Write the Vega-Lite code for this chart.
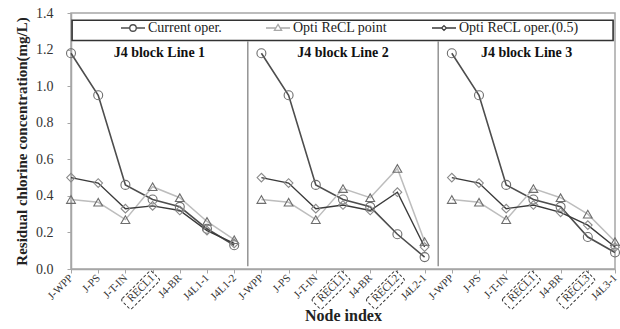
{
  "$schema": "https://vega.github.io/schema/vega-lite/v6.json",
  "width": 544,
  "height": 256,
  "autosize": {"type": "none"},
  "padding": {"left": 71, "top": 13, "right": 5, "bottom": 60},
  "background": "white",
  "config": {
    "font": "Liberation Serif",
    "view": {"stroke": "#a6a6a6", "strokeWidth": 1.5},
    "axis": {
      "grid": false,
      "domainColor": "#a6a6a6",
      "domainWidth": 1.5,
      "tickColor": "#a6a6a6",
      "tickSize": 4,
      "labelFont": "Liberation Serif",
      "titleFont": "Liberation Serif",
      "labelColor": "#333333",
      "titleColor": "#222222",
      "titleFontWeight": "bold"
    },
    "axisX": {
      "labelAngle": -45,
      "labelAlign": "right",
      "labelBaseline": "middle",
      "labelFontSize": 11,
      "labelPadding": 3,
      "labelOverlap": false,
      "labelFlush": false,
      "labelBound": false,
      "titleFontSize": 16,
      "titlePadding": 4
    },
    "axisY": {
      "labelFontSize": 14,
      "labelPadding": 14,
      "titleFontSize": 15,
      "titlePadding": 6
    }
  },
  "datasets": {
    "conc": [
      {"idx": 0, "line": 1, "series": "Current oper.", "conc": 1.18},
      {"idx": 1, "line": 1, "series": "Current oper.", "conc": 0.95},
      {"idx": 2, "line": 1, "series": "Current oper.", "conc": 0.46},
      {"idx": 3, "line": 1, "series": "Current oper.", "conc": 0.38},
      {"idx": 4, "line": 1, "series": "Current oper.", "conc": 0.34},
      {"idx": 5, "line": 1, "series": "Current oper.", "conc": 0.22},
      {"idx": 6, "line": 1, "series": "Current oper.", "conc": 0.13},
      {"idx": 7, "line": 2, "series": "Current oper.", "conc": 1.18},
      {"idx": 8, "line": 2, "series": "Current oper.", "conc": 0.95},
      {"idx": 9, "line": 2, "series": "Current oper.", "conc": 0.46},
      {"idx": 10, "line": 2, "series": "Current oper.", "conc": 0.38},
      {"idx": 11, "line": 2, "series": "Current oper.", "conc": 0.34},
      {"idx": 12, "line": 2, "series": "Current oper.", "conc": 0.19},
      {"idx": 13, "line": 2, "series": "Current oper.", "conc": 0.065},
      {"idx": 14, "line": 3, "series": "Current oper.", "conc": 1.18},
      {"idx": 15, "line": 3, "series": "Current oper.", "conc": 0.95},
      {"idx": 16, "line": 3, "series": "Current oper.", "conc": 0.46},
      {"idx": 17, "line": 3, "series": "Current oper.", "conc": 0.38},
      {"idx": 18, "line": 3, "series": "Current oper.", "conc": 0.34},
      {"idx": 19, "line": 3, "series": "Current oper.", "conc": 0.175},
      {"idx": 20, "line": 3, "series": "Current oper.", "conc": 0.09},
      {"idx": 0, "line": 1, "series": "Opti ReCL point", "conc": 0.38},
      {"idx": 1, "line": 1, "series": "Opti ReCL point", "conc": 0.365},
      {"idx": 2, "line": 1, "series": "Opti ReCL point", "conc": 0.27},
      {"idx": 3, "line": 1, "series": "Opti ReCL point", "conc": 0.45},
      {"idx": 4, "line": 1, "series": "Opti ReCL point", "conc": 0.39},
      {"idx": 5, "line": 1, "series": "Opti ReCL point", "conc": 0.26},
      {"idx": 6, "line": 1, "series": "Opti ReCL point", "conc": 0.16},
      {"idx": 7, "line": 2, "series": "Opti ReCL point", "conc": 0.38},
      {"idx": 8, "line": 2, "series": "Opti ReCL point", "conc": 0.365},
      {"idx": 9, "line": 2, "series": "Opti ReCL point", "conc": 0.27},
      {"idx": 10, "line": 2, "series": "Opti ReCL point", "conc": 0.44},
      {"idx": 11, "line": 2, "series": "Opti ReCL point", "conc": 0.39},
      {"idx": 12, "line": 2, "series": "Opti ReCL point", "conc": 0.55},
      {"idx": 13, "line": 2, "series": "Opti ReCL point", "conc": 0.15},
      {"idx": 14, "line": 3, "series": "Opti ReCL point", "conc": 0.38},
      {"idx": 15, "line": 3, "series": "Opti ReCL point", "conc": 0.365},
      {"idx": 16, "line": 3, "series": "Opti ReCL point", "conc": 0.27},
      {"idx": 17, "line": 3, "series": "Opti ReCL point", "conc": 0.44},
      {"idx": 18, "line": 3, "series": "Opti ReCL point", "conc": 0.39},
      {"idx": 19, "line": 3, "series": "Opti ReCL point", "conc": 0.30},
      {"idx": 20, "line": 3, "series": "Opti ReCL point", "conc": 0.15},
      {"idx": 0, "line": 1, "series": "Opti ReCL oper.(0.5)", "conc": 0.50},
      {"idx": 1, "line": 1, "series": "Opti ReCL oper.(0.5)", "conc": 0.47},
      {"idx": 2, "line": 1, "series": "Opti ReCL oper.(0.5)", "conc": 0.33},
      {"idx": 3, "line": 1, "series": "Opti ReCL oper.(0.5)", "conc": 0.345},
      {"idx": 4, "line": 1, "series": "Opti ReCL oper.(0.5)", "conc": 0.32},
      {"idx": 5, "line": 1, "series": "Opti ReCL oper.(0.5)", "conc": 0.21},
      {"idx": 6, "line": 1, "series": "Opti ReCL oper.(0.5)", "conc": 0.14},
      {"idx": 7, "line": 2, "series": "Opti ReCL oper.(0.5)", "conc": 0.50},
      {"idx": 8, "line": 2, "series": "Opti ReCL oper.(0.5)", "conc": 0.47},
      {"idx": 9, "line": 2, "series": "Opti ReCL oper.(0.5)", "conc": 0.33},
      {"idx": 10, "line": 2, "series": "Opti ReCL oper.(0.5)", "conc": 0.35},
      {"idx": 11, "line": 2, "series": "Opti ReCL oper.(0.5)", "conc": 0.32},
      {"idx": 12, "line": 2, "series": "Opti ReCL oper.(0.5)", "conc": 0.42},
      {"idx": 13, "line": 2, "series": "Opti ReCL oper.(0.5)", "conc": 0.12},
      {"idx": 14, "line": 3, "series": "Opti ReCL oper.(0.5)", "conc": 0.50},
      {"idx": 15, "line": 3, "series": "Opti ReCL oper.(0.5)", "conc": 0.47},
      {"idx": 16, "line": 3, "series": "Opti ReCL oper.(0.5)", "conc": 0.33},
      {"idx": 17, "line": 3, "series": "Opti ReCL oper.(0.5)", "conc": 0.35},
      {"idx": 18, "line": 3, "series": "Opti ReCL oper.(0.5)", "conc": 0.31},
      {"idx": 19, "line": 3, "series": "Opti ReCL oper.(0.5)", "conc": 0.24},
      {"idx": 20, "line": 3, "series": "Opti ReCL oper.(0.5)", "conc": 0.12}
    ],
    "recl_nodes": [
      {"idx": 3, "node": "RECL1"},
      {"idx": 10, "node": "RECL1"},
      {"idx": 12, "node": "RECL2"},
      {"idx": 17, "node": "RECL1"},
      {"idx": 19, "node": "RECL3"}
    ],
    "single": [{"one": 1}]
  },
  "layer": [
    {
      "data": {"name": "single"},
      "mark": {"type": "rect", "fill": "white", "stroke": "#333333", "strokeWidth": 1.6},
      "encoding": {
        "x": {"datum": 0.04, "type": "quantitative", "axis": {"values": [0, 1, 2, 3, 4, 5, 6, 7, 8, 9, 10, 11, 12, 13, 14, 15, 16, 17, 18, 19, 20], "labelExpr": "['J-WPP','J-PS','J-T-IN','RECL1','J4-BR','J4L1-1','J4L1-2','J-WPP','J-PS','J-T-IN','RECL1','J4-BR','RECL2','J4L2-1','J-WPP','J-PS','J-T-IN','RECL1','J4-BR','RECL3','J4L3-1'][datum.value]", "title": "Node index"}},
        "x2": {"datum": 19.93},
        "y": {"datum": 1.36, "type": "quantitative", "axis": {"values": [0, 0.2, 0.4, 0.6, 0.8, 1.0, 1.2, 1.4], "format": ".1f", "title": "Residual chlorine concentration(mg/L)"}},
        "y2": {"datum": 1.25}
      }
    },
    {
      "data": {"name": "single"},
      "mark": {"type": "rule", "stroke": "#8c8c8c", "strokeWidth": 1.4},
      "encoding": {
        "x": {"datum": 6.5, "type": "quantitative", "axis": {"values": [0, 1, 2, 3, 4, 5, 6, 7, 8, 9, 10, 11, 12, 13, 14, 15, 16, 17, 18, 19, 20], "labelExpr": "['J-WPP','J-PS','J-T-IN','RECL1','J4-BR','J4L1-1','J4L1-2','J-WPP','J-PS','J-T-IN','RECL1','J4-BR','RECL2','J4L2-1','J-WPP','J-PS','J-T-IN','RECL1','J4-BR','RECL3','J4L3-1'][datum.value]", "title": "Node index"}},
        "y": {"datum": 0.015, "type": "quantitative", "axis": {"values": [0, 0.2, 0.4, 0.6, 0.8, 1.0, 1.2, 1.4], "format": ".1f", "title": "Residual chlorine concentration(mg/L)"}},
        "y2": {"datum": 1.245}
      }
    },
    {
      "data": {"name": "single"},
      "mark": {"type": "rule", "stroke": "#8c8c8c", "strokeWidth": 1.4},
      "encoding": {
        "x": {"datum": 13.5, "type": "quantitative", "axis": {"values": [0, 1, 2, 3, 4, 5, 6, 7, 8, 9, 10, 11, 12, 13, 14, 15, 16, 17, 18, 19, 20], "labelExpr": "['J-WPP','J-PS','J-T-IN','RECL1','J4-BR','J4L1-1','J4L1-2','J-WPP','J-PS','J-T-IN','RECL1','J4-BR','RECL2','J4L2-1','J-WPP','J-PS','J-T-IN','RECL1','J4-BR','RECL3','J4L3-1'][datum.value]", "title": "Node index"}},
        "y": {"datum": 0.015, "type": "quantitative", "axis": {"values": [0, 0.2, 0.4, 0.6, 0.8, 1.0, 1.2, 1.4], "format": ".1f", "title": "Residual chlorine concentration(mg/L)"}},
        "y2": {"datum": 1.245}
      }
    },
    {
      "data": {"name": "single"},
      "mark": {"type": "text", "fontSize": 14, "fontWeight": "bold", "align": "center", "baseline": "middle", "color": "#111111"},
      "encoding": {
        "x": {"datum": 3.25, "type": "quantitative", "axis": {"values": [0, 1, 2, 3, 4, 5, 6, 7, 8, 9, 10, 11, 12, 13, 14, 15, 16, 17, 18, 19, 20], "labelExpr": "['J-WPP','J-PS','J-T-IN','RECL1','J4-BR','J4L1-1','J4L1-2','J-WPP','J-PS','J-T-IN','RECL1','J4-BR','RECL2','J4L2-1','J-WPP','J-PS','J-T-IN','RECL1','J4-BR','RECL3','J4L3-1'][datum.value]", "title": "Node index"}},
        "y": {"datum": 1.183, "type": "quantitative", "axis": {"values": [0, 0.2, 0.4, 0.6, 0.8, 1.0, 1.2, 1.4], "format": ".1f", "title": "Residual chlorine concentration(mg/L)"}},
        "text": {"value": "J4 block Line 1"}
      }
    },
    {
      "data": {"name": "single"},
      "mark": {"type": "text", "fontSize": 14, "fontWeight": "bold", "align": "center", "baseline": "middle", "color": "#111111"},
      "encoding": {
        "x": {"datum": 10, "type": "quantitative", "axis": {"values": [0, 1, 2, 3, 4, 5, 6, 7, 8, 9, 10, 11, 12, 13, 14, 15, 16, 17, 18, 19, 20], "labelExpr": "['J-WPP','J-PS','J-T-IN','RECL1','J4-BR','J4L1-1','J4L1-2','J-WPP','J-PS','J-T-IN','RECL1','J4-BR','RECL2','J4L2-1','J-WPP','J-PS','J-T-IN','RECL1','J4-BR','RECL3','J4L3-1'][datum.value]", "title": "Node index"}},
        "y": {"datum": 1.183, "type": "quantitative", "axis": {"values": [0, 0.2, 0.4, 0.6, 0.8, 1.0, 1.2, 1.4], "format": ".1f", "title": "Residual chlorine concentration(mg/L)"}},
        "text": {"value": "J4 block Line 2"}
      }
    },
    {
      "data": {"name": "single"},
      "mark": {"type": "text", "fontSize": 14, "fontWeight": "bold", "align": "center", "baseline": "middle", "color": "#111111"},
      "encoding": {
        "x": {"datum": 16.75, "type": "quantitative", "axis": {"values": [0, 1, 2, 3, 4, 5, 6, 7, 8, 9, 10, 11, 12, 13, 14, 15, 16, 17, 18, 19, 20], "labelExpr": "['J-WPP','J-PS','J-T-IN','RECL1','J4-BR','J4L1-1','J4L1-2','J-WPP','J-PS','J-T-IN','RECL1','J4-BR','RECL2','J4L2-1','J-WPP','J-PS','J-T-IN','RECL1','J4-BR','RECL3','J4L3-1'][datum.value]", "title": "Node index"}},
        "y": {"datum": 1.183, "type": "quantitative", "axis": {"values": [0, 0.2, 0.4, 0.6, 0.8, 1.0, 1.2, 1.4], "format": ".1f", "title": "Residual chlorine concentration(mg/L)"}},
        "text": {"value": "J4 block Line 3"}
      }
    },
    {
      "data": {"name": "conc"},
      "mark": {"type": "line"},
      "encoding": {
        "x": {
          "field": "idx",
          "type": "quantitative",
          "scale": {"domain": [0, 20], "nice": false, "zero": false},
          "axis": {"values": [0, 1, 2, 3, 4, 5, 6, 7, 8, 9, 10, 11, 12, 13, 14, 15, 16, 17, 18, 19, 20], "labelExpr": "['J-WPP','J-PS','J-T-IN','RECL1','J4-BR','J4L1-1','J4L1-2','J-WPP','J-PS','J-T-IN','RECL1','J4-BR','RECL2','J4L2-1','J-WPP','J-PS','J-T-IN','RECL1','J4-BR','RECL3','J4L3-1'][datum.value]", "title": "Node index"}
        },
        "y": {
          "field": "conc",
          "type": "quantitative",
          "scale": {"domain": [0, 1.4], "nice": false, "zero": true},
          "axis": {"values": [0, 0.2, 0.4, 0.6, 0.8, 1.0, 1.2, 1.4], "format": ".1f", "title": "Residual chlorine concentration(mg/L)"}
        },
        "detail": {"field": "line", "type": "nominal"},
        "stroke": {
          "field": "series", "type": "nominal",
          "scale": {"domain": ["Current oper.", "Opti ReCL point", "Opti ReCL oper.(0.5)"], "range": ["#4d4d4d", "#bdbdbd", "#3a3a3a"]},
          "legend": null
        },
        "strokeWidth": {
          "field": "series", "type": "nominal",
          "scale": {"domain": ["Current oper.", "Opti ReCL point", "Opti ReCL oper.(0.5)"], "range": [1.6, 1.4, 1.9]},
          "legend": null
        }
      }
    },
    {
      "data": {"name": "conc"},
      "mark": {"type": "point", "filled": false, "strokeWidth": 1.1, "opacity": 1},
      "encoding": {
        "x": {"field": "idx", "type": "quantitative", "axis": {"values": [0, 1, 2, 3, 4, 5, 6, 7, 8, 9, 10, 11, 12, 13, 14, 15, 16, 17, 18, 19, 20], "labelExpr": "['J-WPP','J-PS','J-T-IN','RECL1','J4-BR','J4L1-1','J4L1-2','J-WPP','J-PS','J-T-IN','RECL1','J4-BR','RECL2','J4L2-1','J-WPP','J-PS','J-T-IN','RECL1','J4-BR','RECL3','J4L3-1'][datum.value]", "title": "Node index"}},
        "y": {"field": "conc", "type": "quantitative", "axis": {"values": [0, 0.2, 0.4, 0.6, 0.8, 1.0, 1.2, 1.4], "format": ".1f", "title": "Residual chlorine concentration(mg/L)"}},
        "shape": {
          "field": "series", "type": "nominal",
          "scale": {"domain": ["Current oper.", "Opti ReCL point", "Opti ReCL oper.(0.5)"], "range": ["circle", "triangle-up", "diamond"]},
          "legend": null
        },
        "stroke": {
          "field": "series", "type": "nominal",
          "scale": {"domain": ["Current oper.", "Opti ReCL point", "Opti ReCL oper.(0.5)"], "range": ["#6e6e6e", "#6e6e6e", "#8a8a8a"]},
          "legend": null
        },
        "size": {
          "field": "series", "type": "nominal",
          "scale": {"domain": ["Current oper.", "Opti ReCL point", "Opti ReCL oper.(0.5)"], "range": [80, 75, 40]},
          "legend": null
        }
      }
    },
    {
      "data": {"name": "conc"},
      "mark": {"type": "point", "filled": false, "opacity": 0},
      "encoding": {
        "x": {"field": "idx", "type": "quantitative", "axis": {"values": [0, 1, 2, 3, 4, 5, 6, 7, 8, 9, 10, 11, 12, 13, 14, 15, 16, 17, 18, 19, 20], "labelExpr": "['J-WPP','J-PS','J-T-IN','RECL1','J4-BR','J4L1-1','J4L1-2','J-WPP','J-PS','J-T-IN','RECL1','J4-BR','RECL2','J4L2-1','J-WPP','J-PS','J-T-IN','RECL1','J4-BR','RECL3','J4L3-1'][datum.value]", "title": "Node index"}},
        "y": {"field": "conc", "type": "quantitative", "axis": {"values": [0, 0.2, 0.4, 0.6, 0.8, 1.0, 1.2, 1.4], "format": ".1f", "title": "Residual chlorine concentration(mg/L)"}},
        "shape": {
          "field": "series", "type": "nominal",
          "scale": {
            "domain": ["Current oper.", "Opti ReCL point", "Opti ReCL oper.(0.5)"],
            "range": [
              "M-1,0H-0.27M0.27,0H1M-0.27,0A0.27,0.27,0,1,1,0.27,0A0.27,0.27,0,1,1,-0.27,0Z",
              "M-1,0H-0.22M0.22,0H1M0,-0.3L0.3,0.2L-0.3,0.2Z",
              "M-1,0H-0.2M0.2,0H1M0,-0.2L0.2,0L0,0.2L-0.2,0Z"
            ]
          },
          "legend": {
            "orient": "none",
            "legendX": 49,
            "legendY": 2,
            "direction": "horizontal",
            "columns": 3,
            "title": null,
            "symbolSize": 576,
            "symbolStrokeWidth": 1.3,
            "symbolFillColor": "transparent",
            "symbolOpacity": 1,
            "labelFont": "Liberation Serif",
            "labelFontSize": 14,
            "labelColor": "#222222",
            "labelOffset": 2,
            "columnPadding": 41,
            "gridAlign": "none",
            "padding": 0
          }
        },
        "stroke": {
          "field": "series", "type": "nominal",
          "scale": {"domain": ["Current oper.", "Opti ReCL point", "Opti ReCL oper.(0.5)"], "range": ["#4d4d4d", "#a8a8a8", "#3a3a3a"]},
          "legend": {
            "orient": "none",
            "legendX": 49,
            "legendY": 2,
            "direction": "horizontal",
            "columns": 3,
            "title": null,
            "symbolSize": 576,
            "symbolStrokeWidth": 1.3,
            "symbolFillColor": "transparent",
            "symbolOpacity": 1,
            "labelFont": "Liberation Serif",
            "labelFontSize": 14,
            "labelColor": "#222222",
            "labelOffset": 2,
            "columnPadding": 41,
            "gridAlign": "none",
            "padding": 0
          }
        }
      }
    },
    {
      "data": {"name": "recl_nodes"},
      "mark": {
        "type": "point",
        "shape": "M-0.9,-0.33H0.9Q1,-0.33,1,-0.23V0.23Q1,0.33,0.9,0.33H-0.9Q-1,0.33,-1,0.23V-0.23Q-1,-0.33,-0.9,-0.33Z",
        "size": 1764,
        "angle": -45,
        "filled": false,
        "stroke": "#333333",
        "strokeWidth": 1,
        "strokeDash": [3, 2],
        "opacity": 1,
        "xOffset": -12,
        "yOffset": 21
      },
      "encoding": {
        "x": {"field": "idx", "type": "quantitative", "axis": {"values": [0, 1, 2, 3, 4, 5, 6, 7, 8, 9, 10, 11, 12, 13, 14, 15, 16, 17, 18, 19, 20], "labelExpr": "['J-WPP','J-PS','J-T-IN','RECL1','J4-BR','J4L1-1','J4L1-2','J-WPP','J-PS','J-T-IN','RECL1','J4-BR','RECL2','J4L2-1','J-WPP','J-PS','J-T-IN','RECL1','J4-BR','RECL3','J4L3-1'][datum.value]", "title": "Node index"}},
        "y": {"datum": 0, "type": "quantitative", "axis": {"values": [0, 0.2, 0.4, 0.6, 0.8, 1.0, 1.2, 1.4], "format": ".1f", "title": "Residual chlorine concentration(mg/L)"}}
      }
    }
  ],
  "resolve": {"scale": {"shape": "independent", "stroke": "independent", "strokeWidth": "independent", "size": "independent"}}
}
